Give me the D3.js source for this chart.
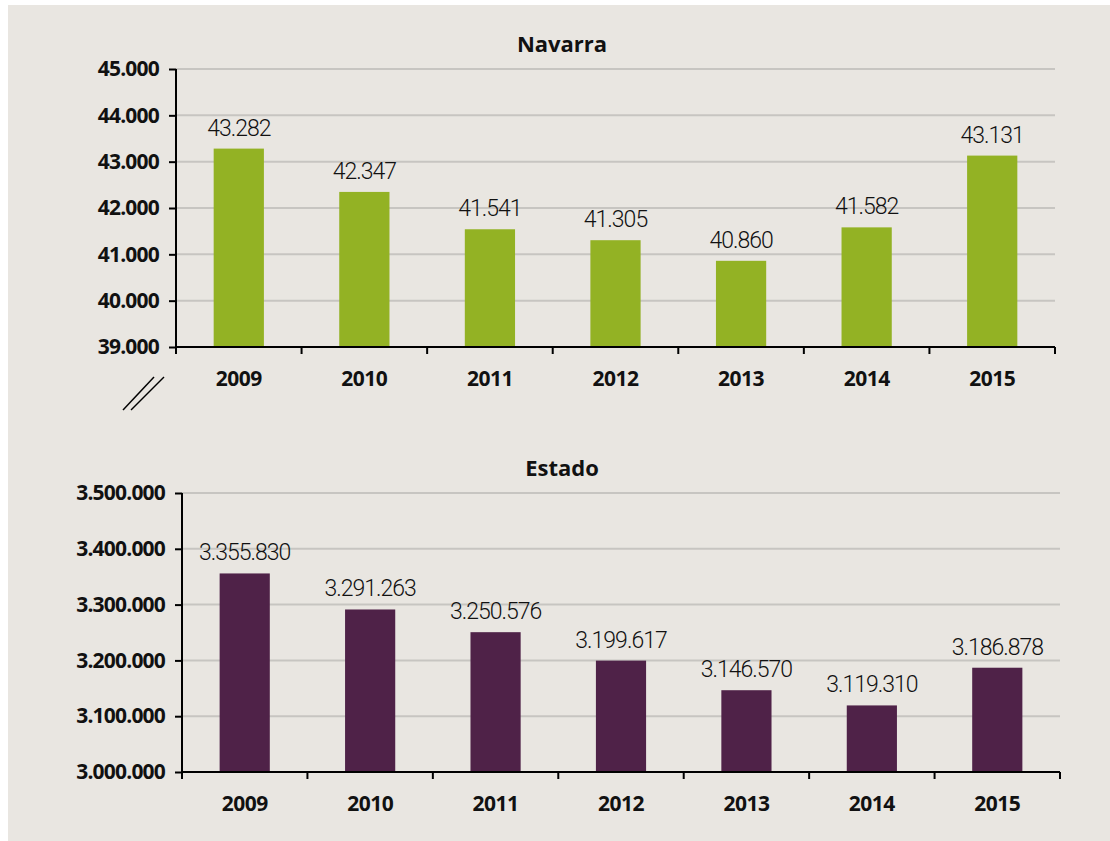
<!DOCTYPE html>
<html>
<head>
<meta charset="utf-8">
<script src="https://cdn.jsdelivr.net/npm/d3@7"></script>
<style>
  body { margin: 0; background: #fff; }
  svg { display: block; }
  .tick text { font-family: "Open Sans", sans-serif; font-weight: 700; }
</style>
</head>
<body>
<svg id="chart" width="1110" height="841"></svg>
<script>
let years = ["2009", "2010", "2011", "2012", "2013", "2014", "2015"];
let navarra = [43282, 42347, 41541, 41305, 40860, 41582, 43131];
let estado = [3355830, 3291263, 3250576, 3199617, 3146570, 3119310, 3186878];
let navarraTicks = [39000, 40000, 41000, 42000, 43000, 44000, 45000];
let estadoTicks = [3000000, 3100000, 3200000, 3300000, 3400000, 3500000];

let es = d3.formatLocale({decimal: ",", thousands: ".", grouping: [3], currency: ["", " €"]});
let fmt = es.format(",d");

let svg = d3.select("#chart");

svg.append("rect")
    .attr("x", 8).attr("y", 5)
    .attr("width", 1102).attr("height", 836)
    .attr("fill", "#e9e6e1");

function panel(cfg) {
  let x = d3.scaleBand()
      .domain(years)
      .range([cfg.left, cfg.right])
      .paddingInner(0.6)
      .paddingOuter(0.3);
  let step = x.step();

  let y = d3.scaleLinear()
      .domain(cfg.domain)
      .range([cfg.bottom, cfg.top]);

  let g = svg.append("g");

  // grid
  g.selectAll("line.grid")
    .data(cfg.ticks.slice(1))
    .enter().append("line")
      .attr("class", "grid")
      .attr("x1", cfg.left).attr("x2", cfg.right)
      .attr("y1", d => y(d)).attr("y2", d => y(d))
      .attr("stroke", "#c7c5c1")
      .attr("stroke-width", 2);

  // bars
  g.selectAll("rect.bar")
    .data(cfg.values)
    .enter().append("rect")
      .attr("class", "bar")
      .attr("x", (d, i) => x(years[i]))
      .attr("width", x.bandwidth())
      .attr("y", d => y(d))
      .attr("height", d => cfg.bottom - y(d))
      .attr("fill", cfg.color);

  // value labels
  g.selectAll("text.val")
    .data(cfg.values)
    .enter().append("text")
      .attr("class", "val")
      .attr("x", (d, i) => x(years[i]) + x.bandwidth() / 2)
      .attr("y", d => y(d) - 13)
      .attr("text-anchor", "middle")
      .attr("font-family", "Roboto, sans-serif")
      .attr("font-weight", 300)
      .attr("font-size", 23)
      .attr("letter-spacing", "-1px")
      .attr("fill", "#111")
      .text(d => fmt(d));

  // y axis
  let yAxis = d3.axisLeft(y)
      .tickValues(cfg.ticks)
      .tickSize(7)
      .tickPadding(10)
      .tickFormat(fmt);
  let ya = g.append("g")
      .attr("transform", "translate(" + cfg.left + ",0)")
      .call(yAxis);
  ya.select(".domain").remove();
  ya.selectAll(".tick line").attr("stroke", "#000").attr("stroke-width", 2);
  ya.selectAll(".tick text")
      .attr("font-size", 21)
      .attr("letter-spacing", "-0.8px")
      .attr("fill", "#111");

  g.append("line")
      .attr("x1", cfg.left).attr("x2", cfg.left)
      .attr("y1", cfg.top).attr("y2", cfg.bottom + 7)
      .attr("stroke", "#000").attr("stroke-width", 2);

  // x axis
  g.append("line")
      .attr("x1", cfg.left).attr("x2", cfg.right)
      .attr("y1", cfg.bottom).attr("y2", cfg.bottom)
      .attr("stroke", "#000").attr("stroke-width", 2);

  let bounds = years.map(d => x(d) - step * 0.3).concat([cfg.right]);
  g.selectAll("line.xt")
    .data(bounds.slice(1))
    .enter().append("line")
      .attr("class", "xt")
      .attr("x1", d => d).attr("x2", d => d)
      .attr("y1", cfg.bottom).attr("y2", cfg.bottom + 7)
      .attr("stroke", "#000").attr("stroke-width", 2);

  g.selectAll("text.yr")
    .data(years)
    .enter().append("text")
      .attr("class", "yr")
      .attr("x", d => x(d) + x.bandwidth() / 2)
      .attr("y", cfg.bottom + 39)
      .attr("text-anchor", "middle")
      .attr("font-family", "'Open Sans', sans-serif")
      .attr("font-weight", 700)
      .attr("font-size", 21)
      .attr("letter-spacing", "-0.5px")
      .attr("fill", "#111")
      .text(d => d);

  // title
  g.append("text")
      .attr("x", 562)
      .attr("y", cfg.titleY)
      .attr("text-anchor", "middle")
      .attr("font-family", "'Open Sans', sans-serif")
      .attr("font-weight", 700)
      .attr("font-size", 22)
      .attr("fill", "#111")
      .text(cfg.title);

  return g;
}

panel({
  title: "Navarra", titleY: 52,
  values: navarra, ticks: navarraTicks, domain: [39000, 45000],
  left: 176, right: 1055, top: 69, bottom: 347,
  color: "#93b224"
});

panel({
  title: "Estado", titleY: 476,
  values: estado, ticks: estadoTicks, domain: [3000000, 3500000],
  left: 182, right: 1060, top: 493, bottom: 772,
  color: "#4f2248"
});

// axis break mark
svg.append("g")
  .selectAll("line")
  .data([[123, 410, 154, 377], [131, 410, 164, 377]])
  .enter().append("line")
    .attr("x1", d => d[0]).attr("y1", d => d[1])
    .attr("x2", d => d[2]).attr("y2", d => d[3])
    .attr("stroke", "#000")
    .attr("stroke-width", 1.5);
</script>
</body>
</html>
